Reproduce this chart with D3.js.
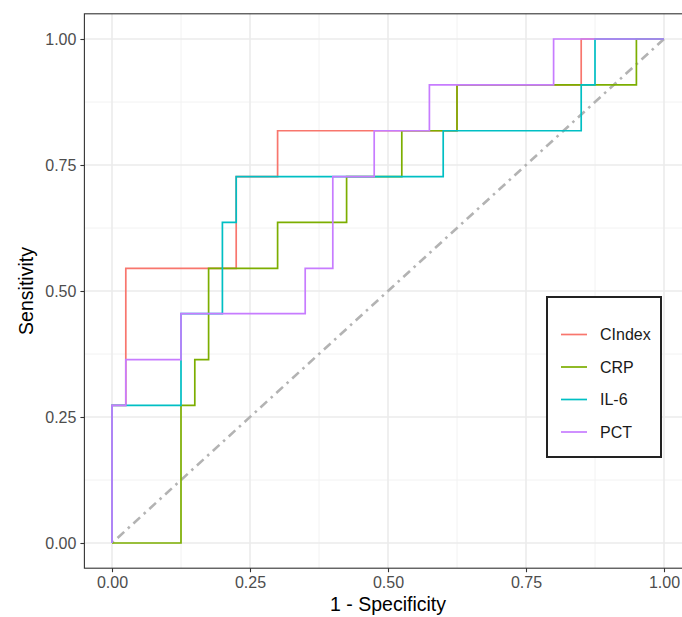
<!DOCTYPE html>
<html>
<head>
<meta charset="utf-8">
<script src="https://cdn.jsdelivr.net/npm/d3@7"></script>
<style>
  body { margin: 0; background: #fff; }
  text { font-family: "Liberation Sans", Arial, sans-serif; }
</style>
</head>
<body>
<svg id="roc-svg" width="682" height="617"></svg>
<script>
// ROC data (step corners)
var seriesNames = ["CIndex", "CRP", "IL-6", "PCT"]
var seriesColors = ["#F8766D", "#7CAE00", "#00BFC4", "#C77CFF"]

var cindexFpr = [0, 0, 0.025, 0.225, 0.3, 0.625, 0.85, 1]
var cindexTpr = [0, 0.273, 0.545, 0.727, 0.818, 0.909, 1, 1]

var crpFpr = [0, 0.125, 0.15, 0.175, 0.3, 0.425, 0.525, 0.625, 0.95, 1]
var crpTpr = [0, 0.273, 0.364, 0.545, 0.636, 0.727, 0.818, 0.909, 1, 1]

var il6Fpr = [0, 0, 0.125, 0.2, 0.225, 0.6, 0.85, 0.875, 1]
var il6Tpr = [0, 0.273, 0.455, 0.636, 0.727, 0.818, 0.909, 1, 1]

var pctFpr = [0, 0, 0.025, 0.125, 0.35, 0.4, 0.475, 0.575, 0.8, 1]
var pctTpr = [0, 0.273, 0.364, 0.455, 0.545, 0.727, 0.818, 0.909, 1, 1]

var majorTicks = [0, 0.25, 0.5, 0.75, 1]
var minorTicks = [0.125, 0.375, 0.625, 0.875]
var tickLabels = ["0.00", "0.25", "0.50", "0.75", "1.00"]

var allFpr = [cindexFpr, crpFpr, il6Fpr, pctFpr]
var allTpr = [cindexTpr, crpTpr, il6Tpr, pctTpr]

function drawChart() {
  var svg = d3.select("#roc-svg")
  var panel = {left: 84.4, right: 691.6, top: 13.8, bottom: 568.2}

  var xScale = d3.scaleLinear().domain([-0.05, 1.05]).range([panel.left, panel.right])
  var yScale = d3.scaleLinear().domain([-0.05, 1.05]).range([panel.bottom, panel.top])

  var grid = svg.append("g")
  // minor grid
  grid.selectAll(".vminor").data(minorTicks).enter().append("line")
    .attr("x1", d => xScale(d)).attr("x2", d => xScale(d))
    .attr("y1", panel.top).attr("y2", panel.bottom)
    .attr("stroke", "#f2f2f2").attr("stroke-width", 1)
  grid.selectAll(".hminor").data(minorTicks).enter().append("line")
    .attr("y1", d => yScale(d)).attr("y2", d => yScale(d))
    .attr("x1", panel.left).attr("x2", panel.right)
    .attr("stroke", "#f2f2f2").attr("stroke-width", 1)
  // major grid
  grid.selectAll(".vmajor").data(majorTicks).enter().append("line")
    .attr("x1", d => xScale(d)).attr("x2", d => xScale(d))
    .attr("y1", panel.top).attr("y2", panel.bottom)
    .attr("stroke", "#ebebeb").attr("stroke-width", 1.6)
  grid.selectAll(".hmajor").data(majorTicks).enter().append("line")
    .attr("y1", d => yScale(d)).attr("y2", d => yScale(d))
    .attr("x1", panel.left).attr("x2", panel.right)
    .attr("stroke", "#ebebeb").attr("stroke-width", 1.6)

  // diagonal reference
  svg.append("line")
    .attr("x1", xScale(0)).attr("y1", yScale(0))
    .attr("x2", xScale(1)).attr("y2", yScale(1))
    .attr("stroke", "#b3b3b3").attr("stroke-width", 2.6)
    .attr("stroke-dasharray", "2.5,5,9,5")

  // curves
  var line = d3.line()
    .x(d => xScale(d[0])).y(d => yScale(d[1]))
    .curve(d3.curveStepAfter)

  seriesNames.forEach(function(name, i) {
    var pts = allFpr[i].map((f, j) => [f, allTpr[i][j]])
    svg.append("path")
      .attr("d", line(pts))
      .attr("fill", "none")
      .attr("stroke", seriesColors[i])
      .attr("stroke-width", 1.7)
  })

  // panel border
  svg.append("rect")
    .attr("x", panel.left).attr("y", panel.top)
    .attr("width", panel.right - panel.left).attr("height", panel.bottom - panel.top)
    .attr("fill", "none").attr("stroke", "#333333").attr("stroke-width", 1.1)

  // axes
  var xAxis = d3.axisBottom(xScale).tickValues(majorTicks)
    .tickFormat((d, i) => tickLabels[i]).tickSize(4).tickPadding(4)
  var yAxis = d3.axisLeft(yScale).tickValues(majorTicks)
    .tickFormat((d, i) => tickLabels[i]).tickSize(4).tickPadding(4)

  var gx = svg.append("g").attr("transform", "translate(0," + panel.bottom + ")").call(xAxis)
  var gy = svg.append("g").attr("transform", "translate(" + panel.left + ",0)").call(yAxis)
  ;[gx, gy].forEach(function(g) {
    g.select(".domain").remove()
    g.selectAll(".tick line").attr("stroke", "#333333").attr("stroke-width", 1.1)
    g.selectAll(".tick text").attr("fill", "#4d4d4d")
      .style("font-size", "16px").style("font-family", "Liberation Sans, Arial, sans-serif")
  })

  // axis titles
  svg.append("text")
    .attr("x", (panel.left + panel.right) / 2).attr("y", 611)
    .attr("text-anchor", "middle").style("font-size", "19.5px")
    .text("1 - Specificity")
  svg.append("text")
    .attr("transform", "translate(33," + ((panel.top + panel.bottom) / 2) + ") rotate(-90)")
    .attr("text-anchor", "middle").style("font-size", "19.5px")
    .text("Sensitivity")

  // legend
  var legend = svg.append("g")
  legend.append("rect")
    .attr("x", 547).attr("y", 297).attr("width", 114).attr("height", 160)
    .attr("fill", "#fff").attr("stroke", "#222").attr("stroke-width", 2)
  var rowY = d3.scalePoint().domain(seriesNames).range([334.5, 432])
  seriesNames.forEach(function(name, i) {
    legend.append("line")
      .attr("x1", 561).attr("x2", 587)
      .attr("y1", rowY(name)).attr("y2", rowY(name))
      .attr("stroke", seriesColors[i]).attr("stroke-width", 1.7)
    legend.append("text")
      .attr("x", 600).attr("y", rowY(name)).attr("dy", "0.36em")
      .style("font-size", "16px").attr("fill", "#1a1a1a")
      .text(name)
  })
}

window.onload = function() {
  drawChart()
}
</script>
</body>
</html>
